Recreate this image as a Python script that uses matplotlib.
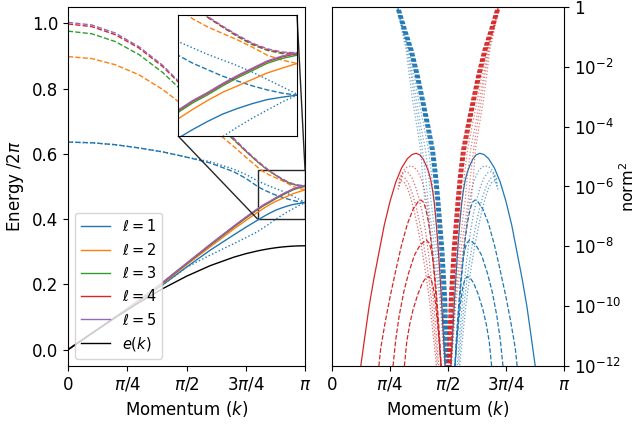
import numpy as np
import matplotlib
matplotlib.use("Agg")
import matplotlib.pyplot as plt
from matplotlib.ticker import NullLocator
from mpl_toolkits.axes_grid1.inset_locator import mark_inset

plt.rcParams["font.size"] = 12

# ── left panel: energies, momentum in units of pi ──────────────────
k_grid = [0, 0.1, 0.2, 0.3, 0.4, 0.5, 0.6, 0.7, 0.75, 0.8,
          0.825, 0.85, 0.875, 0.9, 0.925, 0.95, 0.975, 1.0]

e_k = [0, 0.0498, 0.0984, 0.1445, 0.1871, 0.2251, 0.2575, 0.2836, 0.2941, 0.3027,
       0.3063, 0.3095, 0.3122, 0.3144, 0.3161, 0.3173, 0.3181, 0.3183]

solid_l1 = [0, 0.05, 0.1, 0.149, 0.199, 0.253, 0.305, 0.352, 0.375, 0.397,
            0.408, 0.418, 0.427, 0.434, 0.440, 0.445, 0.448, 0.4505]
solid_l2 = [0, 0.05, 0.1, 0.150, 0.203, 0.260, 0.315, 0.370, 0.396, 0.421,
            0.433, 0.444, 0.454, 0.462, 0.470, 0.478, 0.484, 0.4897]
solid_l3 = [0, 0.05, 0.1, 0.151, 0.205, 0.263, 0.320, 0.376, 0.403, 0.429,
            0.441, 0.451, 0.462, 0.472, 0.481, 0.490, 0.496, 0.500]
solid_l4 = [0, 0.05, 0.1, 0.151, 0.206, 0.264, 0.322, 0.378, 0.405, 0.431,
            0.443, 0.453, 0.464, 0.474, 0.483, 0.492, 0.498, 0.502]
solid_l5 = [0, 0.05, 0.1, 0.152, 0.207, 0.265, 0.323, 0.379, 0.406, 0.432,
            0.444, 0.454, 0.465, 0.475, 0.484, 0.493, 0.499, 0.503]

dashed_l1 = [0.636, 0.634, 0.628, 0.618, 0.606, 0.590, 0.572, 0.545, 0.525, 0.500,
             0.490, 0.482, 0.474, 0.468, 0.462, 0.457, 0.453, 0.4505]
dashed_l2 = [0.898, 0.892, 0.873, 0.842, 0.797, 0.741, 0.683, 0.622, 0.590, 0.559,
             0.545, 0.535, 0.527, 0.519, 0.510, 0.500, 0.494, 0.4897]
dashed_l3 = [0.976, 0.968, 0.944, 0.904, 0.849, 0.780, 0.710, 0.642, 0.608, 0.575,
             0.560, 0.547, 0.535, 0.523, 0.513, 0.506, 0.502, 0.500]
dashed_l4 = [0.998, 0.990, 0.965, 0.924, 0.867, 0.795, 0.720, 0.645, 0.609, 0.576,
             0.561, 0.547, 0.535, 0.524, 0.514, 0.507, 0.503, 0.502]
dashed_l5 = [1.003, 0.995, 0.970, 0.928, 0.871, 0.798, 0.723, 0.647, 0.611, 0.578,
             0.563, 0.548, 0.536, 0.525, 0.515, 0.508, 0.504, 0.503]

dotted_up_l1 = [0.636, 0.634, 0.628, 0.618, 0.606, 0.590, 0.576, 0.553, 0.537, 0.517,
                0.509, 0.501, 0.494, 0.487, 0.479, 0.470, 0.461, 0.4517]
dotted_lo_l1 = [0, 0.05, 0.1, 0.149, 0.199, 0.252, 0.290, 0.325, 0.343, 0.362,
                0.374, 0.386, 0.399, 0.411, 0.422, 0.432, 0.442, 0.4505]

# ── right panel: log10(norm^2) ──────────────────────────────────────
bundle_log = [0.5, 0.0, -0.77, -1.44, -2.27, -3.11, -3.94, -4.78, -5.62, -6.45, -8.12, -9.79, -12.0]
bundle_k = [0.264, 0.283, 0.313, 0.341, 0.367, 0.390, 0.412, 0.433, 0.446, 0.456, 0.4735, 0.486, 0.495]
bundle_shift = [-0.008, -0.004, 0.0, 0.004, 0.008]
bundle_dot_k = [
    [0.264, 0.283, 0.309, 0.332, 0.354, 0.373, 0.395, 0.416, 0.429, 0.439, 0.461, 0.477, 0.491],
    [0.264, 0.283, 0.304, 0.328, 0.346, 0.364, 0.382, 0.403, 0.416, 0.426, 0.452, 0.473, 0.491],
    [0.264, 0.283, 0.304, 0.324, 0.341, 0.356, 0.374, 0.390, 0.403, 0.413, 0.444, 0.469, 0.486],
    [0.264, 0.283, 0.300, 0.320, 0.333, 0.347, 0.365, 0.382, 0.390, 0.400, 0.435, 0.465, 0.486],
]

arc_solid_k = [0.124, 0.14, 0.16, 0.18, 0.20, 0.225, 0.25, 0.275, 0.30, 0.325, 0.345, 0.363, 0.38,
               0.394, 0.406, 0.416, 0.426, 0.434, 0.441, 0.449, 0.457, 0.465, 0.472, 0.478, 0.484, 0.488]
arc_solid_log = [-12, -11.1, -10.0, -9.1, -8.3, -7.3, -6.5, -5.85, -5.38, -5.07, -4.93, -4.89, -4.95,
                 -5.1, -5.3, -5.5, -5.8, -6.15, -6.55, -7.2, -8.0, -8.9, -9.8, -10.7, -11.5, -12]

arc_dash_k = [
    [0.202, 0.21, 0.23, 0.25, 0.275, 0.30, 0.325, 0.35, 0.37, 0.383, 0.395, 0.405, 0.415, 0.425,
     0.435, 0.445, 0.455, 0.464, 0.47],
    [0.263, 0.275, 0.29, 0.31, 0.33, 0.355, 0.38, 0.407, 0.42, 0.43, 0.439, 0.448, 0.456, 0.464, 0.47],
    [0.312, 0.322, 0.335, 0.35, 0.37, 0.39, 0.405, 0.418, 0.428, 0.437, 0.446, 0.455, 0.463, 0.47],
]
arc_dash_log = [
    [-12, -11.4, -10.5, -9.7, -8.8, -7.95, -7.25, -6.75, -6.52, -6.45, -6.53, -6.78, -7.15, -7.7,
     -8.45, -9.35, -10.35, -11.3, -12],
    [-12, -11.1, -10.3, -9.5, -8.9, -8.3, -7.95, -7.79, -7.9, -8.2, -8.7, -9.4, -10.2, -11.1, -12],
    [-12, -11.2, -10.6, -10.1, -9.6, -9.22, -9.05, -9.01, -9.12, -9.4, -9.9, -10.6, -11.35, -12],
]

arc_dot_k = [
    [0.29, 0.31, 0.325, 0.34, 0.355, 0.37, 0.385, 0.398, 0.41, 0.42, 0.43, 0.44, 0.45, 0.458, 0.465, 0.47],
    [0.288, 0.30, 0.316, 0.33, 0.345, 0.36, 0.375, 0.39, 0.403, 0.415, 0.427, 0.438, 0.448, 0.456, 0.461],
    [0.288, 0.302, 0.315, 0.33, 0.345, 0.36, 0.375, 0.39, 0.405, 0.418, 0.43, 0.44, 0.45, 0.455],
    [0.285, 0.295, 0.31, 0.325, 0.34, 0.355, 0.37, 0.385, 0.40, 0.413, 0.425, 0.435, 0.445, 0.45],
]
arc_dot_log = [
    [-5.75, -5.45, -5.34, -5.31, -5.36, -5.5, -5.75, -6.1, -6.6, -7.2, -7.9, -8.7, -9.6, -10.5, -11.3, -12],
    [-5.9, -5.62, -5.50, -5.55, -5.72, -6.0, -6.4, -6.9, -7.5, -8.2, -9.0, -9.9, -10.8, -11.6, -12],
    [-6.0, -5.67, -5.72, -5.9, -6.2, -6.6, -7.1, -7.7, -8.4, -9.1, -9.9, -10.7, -11.5, -12],
    [-6.1, -5.80, -5.85, -6.05, -6.4, -6.85, -7.4, -8.0, -8.7, -9.4, -10.1, -10.9, -11.6, -12],
]

colors = ["C0", "C1", "C2", "C3", "C4"]
solids = [solid_l1, solid_l2, solid_l3, solid_l4, solid_l5]
dashes = [dashed_l1, dashed_l2, dashed_l3, dashed_l4, dashed_l5]

xticks = [0, np.pi / 4, np.pi / 2, 3 * np.pi / 4, np.pi]
xticklabels = ["0", r"$\pi/4$", r"$\pi/2$", r"$3\pi/4$", r"$\pi$"]

fig = plt.figure(figsize=(6.39, 4.24), dpi=100)
ax1 = fig.add_axes([0.1064, 0.1368, 0.371, 0.8467])
ax2 = fig.add_axes([0.5196, 0.1368, 0.3630, 0.8467])

kk = np.array(k_grid) * np.pi


def draw_energy(ax, with_labels):
    for i in range(5):
        ax.plot(kk, dashes[i], "--", color=colors[i], lw=1)
    ax.plot(kk, dotted_up_l1, ":", color="C0", lw=1)
    ax.plot(kk, dotted_lo_l1, ":", color="C0", lw=1)
    for i in range(5):
        ax.plot(kk, solids[i], "-", color=colors[i], lw=1,
                label=rf"$\ell={i + 1}$" if with_labels else None)
    ax.plot(kk, e_k, "-", color="k", lw=1, label="$e(k)$" if with_labels else None)


draw_energy(ax1, True)
ax1.set_xlim(0, np.pi)
ax1.set_ylim(-0.05, 1.05)
ax1.set_xticks(xticks)
ax1.set_xticklabels(xticklabels)
ax1.set_xlabel("Momentum ($k$)")
ax1.set_ylabel(r"Energy /2$\pi$")
ax1.legend(loc="lower left", fontsize=10.5)

axins = ax1.inset_axes([0.464, 0.641, 0.502, 0.337])
draw_energy(axins, False)
axins.set_xlim(0.8 * np.pi, np.pi)
axins.set_ylim(0.40, 0.55)
axins.set_xticks([])
axins.set_yticks([])
mark_inset(ax1, axins, loc1=1, loc2=3, fc="none", ec="0.15", lw=1)


def draw_norm(kpos, color):
    # kpos maps a k value (units of pi) to the drawn position
    ax2.plot(kpos(np.array(arc_solid_k)), 10.0 ** np.array(arc_solid_log), "-", color=color, lw=0.9)
    for ks, ls in zip(arc_dash_k, arc_dash_log):
        ax2.plot(kpos(np.array(ks)), 10.0 ** np.array(ls), "--", color=color, lw=0.9)
    for ks, ls in zip(arc_dot_k, arc_dot_log):
        ax2.plot(kpos(np.array(ks)), 10.0 ** np.array(ls), ":", color=color, lw=0.9, alpha=0.7)


def draw_bundle(kpos, color):
    bl = 10.0 ** np.array(bundle_log)
    for ks in bundle_dot_k:
        ax2.plot(kpos(np.array(ks)), bl, ":", color=color, lw=0.9, alpha=0.6)
    for s in bundle_shift:
        ax2.plot(kpos(np.array(bundle_k) + s), bl, color=color, lw=0.9,
                 dashes=(3, 1.5), dash_capstyle="butt")


# red on the left half, blue mirrored on the right half
draw_norm(lambda k: k * np.pi, "C3")
draw_norm(lambda k: (1 - k) * np.pi, "C0")
draw_bundle(lambda k: k * np.pi, "C0")
draw_bundle(lambda k: (1 - k) * np.pi, "C3")

ax2.set_yscale("log")
ax2.set_xlim(0, np.pi)
ax2.set_ylim(1e-12, 1)
ax2.set_xticks(xticks)
ax2.set_xticklabels(xticklabels)
ax2.set_xlabel("Momentum ($k$)")
ax2.yaxis.tick_right()
ax2.yaxis.set_label_position("right")
ax2.set_yticks([10.0 ** p for p in range(-12, 1, 2)])
ax2.set_yticklabels([rf"$10^{{{p}}}$" for p in range(-12, 0, 2)] + ["1"])
ax2.yaxis.set_minor_locator(NullLocator())
ax2.set_ylabel("norm$^2$", labelpad=-2, fontsize=11.5)

fig.savefig("out.png", dpi=100)
